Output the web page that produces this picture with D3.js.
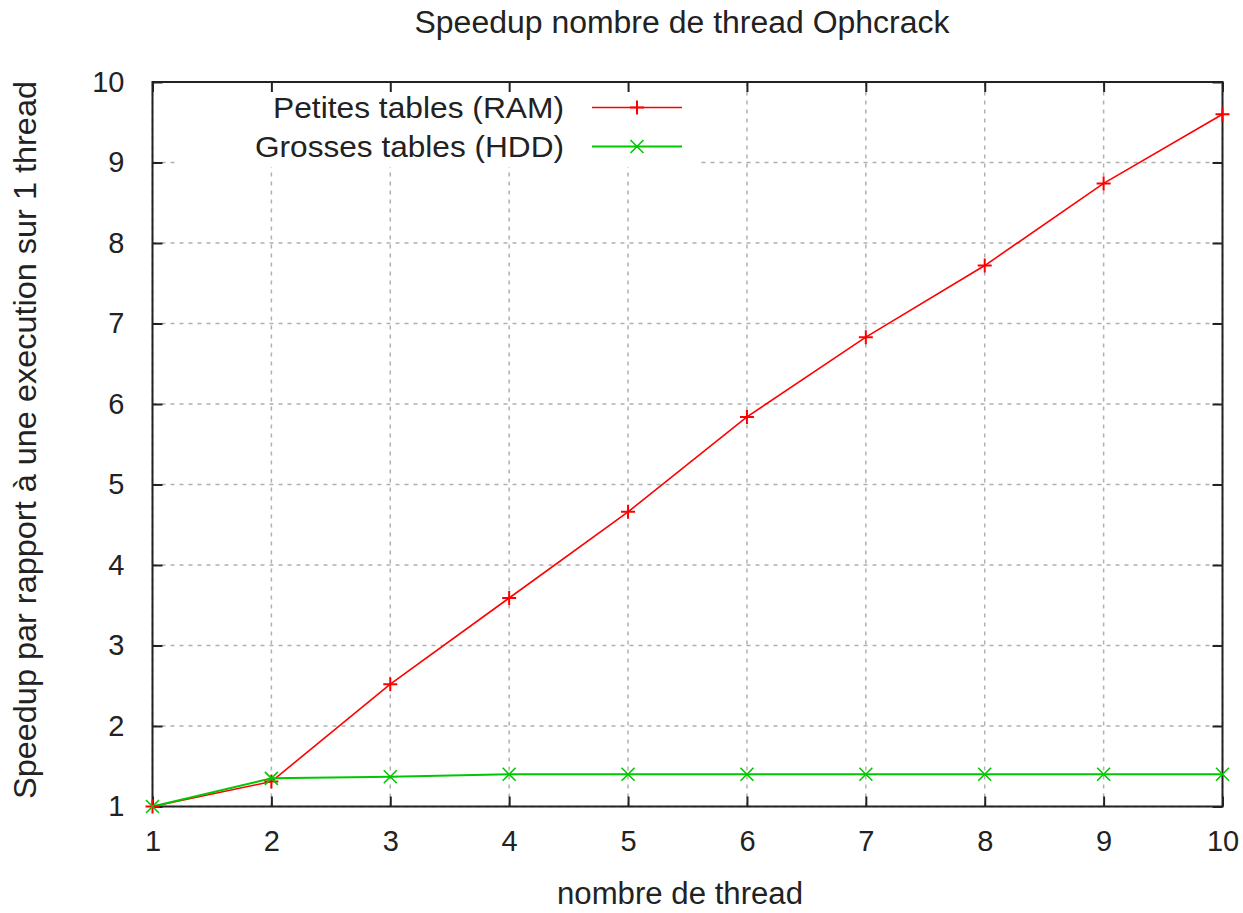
<html lang='fr'>
	<head>
		<title>Speedup nombre de thread Ophcrack</title>
		<script src="https://d3js.org/d3.v7.min.js" charset="utf-8"></script>
		<style type="text/css">
			body{
				margin: 0;
				background: white;
				font-family: "Liberation Sans", Arial, sans-serif;
			}
			text{
				fill: #222;
			}
			.grid line{
				stroke: #b0b0b0;
				stroke-width: 1.5;
				stroke-dasharray: 4,5;
			}
			.axis path{
				display: none;
			}
			.axis line{
				stroke: #222;
				stroke-width: 2;
			}
			.axis text{
				font-size: 29px;
				fill: #222;
			}
		</style>
	</head>
	<body>
		<div class="main"></div>
		<script>
			// data
			var threads = [1, 2, 3, 4, 5, 6, 7, 8, 9, 10]
			var ramSpeedup = [1, 1.31, 2.52, 3.59, 4.66, 5.84, 6.83, 7.72, 8.74, 9.6]
			var hddSpeedup = [1, 1.35, 1.37, 1.40, 1.40, 1.40, 1.40, 1.40, 1.40, 1.40]
			var xTicks = [1, 2, 3, 4, 5, 6, 7, 8, 9, 10]
			var yTicks = [1, 2, 3, 4, 5, 6, 7, 8, 9, 10]
			var seriesNames = ["Petites tables (RAM)", "Grosses tables (HDD)"]

			var width = 1243
			var height = 913
			var plotLeft = 152.5, plotRight = 1222.5, plotTop = 82, plotBottom = 806.5

			var svg = d3.select(".main")
				.append("svg")
				.attr("width", width)
				.attr("height", height)

			var x = d3.scaleLinear().domain([1, 10]).range([plotLeft, plotRight])
			var y = d3.scaleLinear().domain([1, 10]).range([plotBottom, plotTop])

			// grid
			var grid = svg.append("g").attr("class", "grid")
			grid.selectAll(".gx")
				.data(xTicks)
				.enter().append("line")
				.attr("x1", function(d){ return x(d) })
				.attr("x2", function(d){ return x(d) })
				.attr("y1", plotBottom)
				.attr("y2", plotTop)
			grid.selectAll(".gy")
				.data(yTicks)
				.enter().append("line")
				.attr("x1", plotLeft)
				.attr("x2", plotRight)
				.attr("y1", function(d){ return y(d) })
				.attr("y2", function(d){ return y(d) })

			// legend box hides the grid behind the key
			svg.append("rect")
				.attr("x", 176)
				.attr("y", plotTop + 1)
				.attr("width", 524)
				.attr("height", 84)
				.attr("fill", "white")

			// axes with inward ticks, mirrored on top and right
			svg.append("g").attr("class", "axis")
				.attr("transform", "translate(0," + plotBottom + ")")
				.call(d3.axisBottom(x).tickValues(xTicks).tickSize(-10).tickPadding(24).tickFormat(d3.format("d")))
			svg.append("g").attr("class", "axis")
				.attr("transform", "translate(" + plotLeft + ",0)")
				.call(d3.axisLeft(y).tickValues(yTicks).tickSize(-10).tickPadding(28).tickFormat(d3.format("d")))
			svg.append("g").attr("class", "axis")
				.attr("transform", "translate(0," + plotTop + ")")
				.call(d3.axisTop(x).tickValues(xTicks).tickSize(-10).tickFormat(""))
			svg.append("g").attr("class", "axis")
				.attr("transform", "translate(" + plotRight + ",0)")
				.call(d3.axisRight(y).tickValues(yTicks).tickSize(-10).tickFormat(""))

			svg.append("rect")
				.attr("x", plotLeft)
				.attr("y", plotTop)
				.attr("width", plotRight - plotLeft)
				.attr("height", plotBottom - plotTop)
				.attr("fill", "none")
				.attr("stroke", "#222")
				.attr("stroke-width", 2)

			var line = d3.line()
				.x(function(d){ return x(d[0]) })
				.y(function(d){ return y(d[1]) })

			var ramData = d3.zip(threads, ramSpeedup)
			var hddData = d3.zip(threads, hddSpeedup)

			function plus(g, cx, cy, color){
				g.append("path")
					.attr("d", "M" + (cx - 7) + "," + cy + "H" + (cx + 7) + "M" + cx + "," + (cy - 7) + "V" + (cy + 7))
					.attr("stroke", color).attr("stroke-width", 2).attr("fill", "none")
			}
			function cross(g, cx, cy, color){
				var s = 6.5
				g.append("path")
					.attr("d", "M" + (cx - s) + "," + (cy - s) + "L" + (cx + s) + "," + (cy + s) + "M" + (cx - s) + "," + (cy + s) + "L" + (cx + s) + "," + (cy - s))
					.attr("stroke", color).attr("stroke-width", 1.6).attr("fill", "none")
			}

			var red = "#ff0000"
			var green = "#00c800"

			var plot = svg.append("g")
			plot.append("path").datum(ramData)
				.attr("d", line).attr("fill", "none")
				.attr("stroke", red).attr("stroke-width", 1.6)
			plot.append("path").datum(hddData)
				.attr("d", line).attr("fill", "none")
				.attr("stroke", green).attr("stroke-width", 2)
			ramData.forEach(function(d){ plus(plot, x(d[0]), y(d[1]), red) })
			hddData.forEach(function(d){ cross(plot, x(d[0]), y(d[1]), green) })

			// legend
			var legend = svg.append("g")
			var legendRows = [
				{name: seriesNames[0], color: red, mark: plus, y: 107.5, len: 291, sw: 1.6},
				{name: seriesNames[1], color: green, mark: cross, y: 146.5, len: 309, sw: 2}
			]
			legendRows.forEach(function(r){
				legend.append("text")
					.attr("x", 564)
					.attr("y", r.y + 10)
					.attr("text-anchor", "end")
					.attr("font-size", 30)
					.attr("textLength", r.len)
					.attr("lengthAdjust", "spacingAndGlyphs")
					.text(r.name)
				legend.append("line")
					.attr("x1", 592).attr("x2", 682)
					.attr("y1", r.y).attr("y2", r.y)
					.attr("stroke", r.color).attr("stroke-width", r.sw)
				r.mark(legend, 637, r.y, r.color)
			})

			// titles
			svg.append("text")
				.attr("x", 682)
				.attr("y", 33)
				.attr("text-anchor", "middle")
				.attr("font-size", 31)
				.attr("textLength", 535)
				.attr("lengthAdjust", "spacingAndGlyphs")
				.text("Speedup nombre de thread Ophcrack")

			svg.append("text")
				.attr("x", 680)
				.attr("y", 904)
				.attr("text-anchor", "middle")
				.attr("font-size", 31)
				.attr("textLength", 246)
				.attr("lengthAdjust", "spacingAndGlyphs")
				.text("nombre de thread")

			svg.append("text")
				.attr("transform", "translate(36,440) rotate(-90)")
				.attr("text-anchor", "middle")
				.attr("font-size", 31)
				.attr("textLength", 718)
				.attr("lengthAdjust", "spacingAndGlyphs")
				.text("Speedup par rapport à une execution sur 1 thread")
		</script>
	</body>
</html>
